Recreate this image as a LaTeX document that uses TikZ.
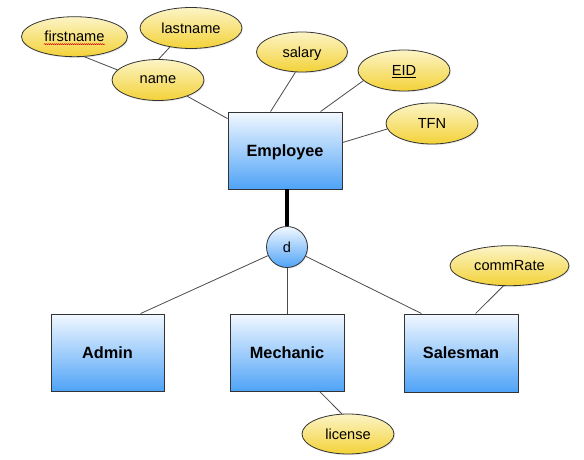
\documentclass[tikz,border=0pt]{standalone}
\usepackage{fontspec}
\setmainfont{Liberation Sans}
\usetikzlibrary{shapes.geometric,calc,shadows,decorations.pathmorphing}
\definecolor{boxtop}{HTML}{F2F8FF}
\definecolor{boxbot}{HTML}{4FA3F7}
\definecolor{elltop}{HTML}{FCF4C6}
\definecolor{ellbot}{HTML}{F3D238}
\definecolor{bordercol}{HTML}{333333}
\definecolor{linecol}{HTML}{4A4A4A}
\tikzset{
  entity/.style={rectangle, draw=bordercol, line width=0.9pt, top color=boxtop, bottom color=boxbot,
    inner sep=0pt, text depth=0pt, font=\fontsize{16.3}{19}\selectfont\bfseries,
    drop shadow={shadow xshift=1pt, shadow yshift=-1.2pt, opacity=0.18}},
  attr/.style={ellipse, draw=bordercol, line width=0.8pt, top color=elltop, bottom color=ellbot,
    inner sep=0pt, text depth=0pt, font=\fontsize{14.6}{17}\selectfont,
    drop shadow={shadow xshift=1pt, shadow yshift=-1.2pt, opacity=0.18}},
  disj/.style={circle, draw=bordercol, line width=0.8pt, top color=boxtop, bottom color=boxbot,
    inner sep=0pt, minimum size=41pt, font=\fontsize{14.6}{17}\selectfont,
    drop shadow={shadow xshift=1pt, shadow yshift=-1.2pt, opacity=0.18}},
  conn/.style={draw=linecol, line width=0.8pt},
  thickconn/.style={draw=black, line width=4pt},
}
\begin{document}
\begin{tikzpicture}[x=1pt,y=-1pt]
\useasboundingbox (0,0) rectangle (584,460);
% entities
\node[entity, minimum width=114pt, minimum height=77pt] (emp) at (285,150.5) {Employee};
\node[entity, minimum width=113pt, minimum height=77pt] (admin) at (107.5,352.5) {Admin};
\node[entity, minimum width=114pt, minimum height=77pt] (mech) at (287,352.5) {Mechanic};
\node[entity, minimum width=114pt, minimum height=78pt] (sales) at (461,353) {Salesman};
\node[disj] (d) at (287,247) {d};
% attributes
\node[attr, minimum width=106pt, minimum height=40pt] (first) at (74.5,36.7) {firstname};
\node[attr, minimum width=102pt, minimum height=41pt] (last) at (191,28) {lastname};
\node[attr, minimum width=92pt, minimum height=41pt] (name) at (158,80) {name};
\node[attr, minimum width=91pt, minimum height=40pt] (salary) at (302,52) {salary};
\node[attr, minimum width=92pt, minimum height=41pt] (eid) at (404,70.5) {\underline{EID}};
\node[attr, minimum width=92pt, minimum height=41pt] (tfn) at (432,123.5) {TFN};
\node[attr, minimum width=119pt, minimum height=40pt] (comm) at (509.5,265.7) {commRate};
\node[attr, minimum width=92pt, minimum height=40pt] (lic) at (348,434) {license};
% spell-check squiggle under firstname
\draw[red!85!black, line width=0.6pt, decorate, decoration={snake, amplitude=0.5pt, segment length=2pt}]
  ($(first.center)+(-30.5,7.5)$) -- ($(first.center)+(30.5,7.5)$);
% connectors
\draw[conn] (first.296) -- (name.166);
\draw[conn] (last.222) -- (name.88);
\draw[conn] (name) -- (emp);
\draw[conn] (salary.252) -- ($(emp.north west)+(43,0)$);
\draw[conn] (eid.194) -- ($(emp.north west)+(93,0)$);
\draw[conn] (tfn.187) -- ($(emp.north east)+(0,31)$);
\draw[thickconn] (d.north) -- (d.north |- emp.south);
\draw[conn] (d) -- ($(admin.north west)+(90,0)$);
\draw[conn] (d) -- (mech);
\draw[conn] (d) -- ($(sales.north west)+(18,0)$);
\draw[conn] ($(mech.south west)+(90,0)$) -- (lic.107);
\draw[conn] (comm.253) -- ($(sales.north west)+(72,0)$);
\end{tikzpicture}
\end{document}
